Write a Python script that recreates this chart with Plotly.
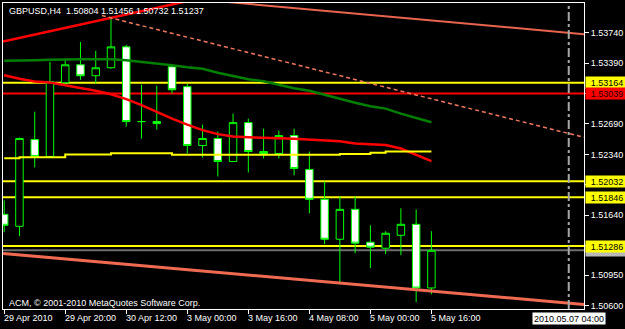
import plotly.graph_objects as go

# ---------------- data ----------------
bar_index = list(range(29))
opens  = [1.51651, 1.51513, 1.52510, 1.52316, 1.53164, 1.53370, 1.53244, 1.53336, 1.53576, 1.52717,
          1.52717, 1.53347, 1.53118, 1.52442, 1.52522, 1.52258, 1.52705, 1.52373, 1.52350, 1.52556,
          1.52167, 1.51823, 1.51364, 1.51708, 1.51330, 1.51261, 1.51410, 1.51536, 1.50804]
highs  = [1.51811, 1.52533, 1.52831, 1.53404, 1.53439, 1.53633, 1.53530, 1.53909, 1.53599, 1.53141,
          1.53129, 1.53350, 1.53152, 1.52682, 1.52602, 1.52808, 1.52751, 1.52636, 1.52614, 1.52636,
          1.52373, 1.52029, 1.51857, 1.51857, 1.51525, 1.51456, 1.51720, 1.51708, 1.51456]
lows   = [1.51445, 1.51399, 1.52190, 1.52304, 1.53129, 1.53198, 1.53152, 1.53324, 1.52659, 1.52522,
          1.52625, 1.53038, 1.52350, 1.52304, 1.52086, 1.52258, 1.52132, 1.52293, 1.52293, 1.52098,
          1.51662, 1.51307, 1.50872, 1.51204, 1.51032, 1.51193, 1.51181, 1.50642, 1.50732]
closes = [1.51525, 1.52522, 1.52316, 1.53175, 1.53370, 1.53244, 1.53336, 1.53576, 1.52717, 1.52717,
          1.52694, 1.53083, 1.52442, 1.52522, 1.52258, 1.52705, 1.52373, 1.52350, 1.52556, 1.52178,
          1.51823, 1.51364, 1.51708, 1.51319, 1.51273, 1.51433, 1.51536, 1.50803, 1.51237]

ma_green  = [1.53416, 1.53416, 1.53421, 1.53427, 1.53433, 1.53435, 1.53435, 1.53435, 1.53421, 1.53404,
             1.53387, 1.53364, 1.53341, 1.53324, 1.53278, 1.53238, 1.53204, 1.53181, 1.53141, 1.53101,
             1.53072, 1.53026, 1.52975, 1.52934, 1.52894, 1.52866, 1.52808, 1.52757, 1.52709]
ma_red    = [1.53250, 1.53209, 1.53179, 1.53167, 1.53135, 1.53106, 1.53072, 1.53032, 1.52975, 1.52906,
             1.52826, 1.52751, 1.52682, 1.52619, 1.52573, 1.52545, 1.52537, 1.52528, 1.52525, 1.52520,
             1.52510, 1.52499, 1.52491, 1.52465, 1.52453, 1.52447, 1.52407, 1.52339, 1.52262]
ma_yellow = [1.52296, 1.52308, 1.52308, 1.52308, 1.52339, 1.52339, 1.52339, 1.52353, 1.52353, 1.52353,
             1.52353, 1.52335, 1.52335, 1.52335, 1.52335, 1.52335, 1.52335, 1.52335, 1.52335, 1.52335,
             1.52335, 1.52335, 1.52344, 1.52344, 1.52358, 1.52373, 1.52373, 1.52373, 1.52373]

yellow_levels = [1.53164, 1.52032, 1.51846, 1.51286]
red_levels = [1.53039]
bid_price = 1.51237

time_tick_idx = [0, 4, 8, 12, 16, 20, 24, 28]
time_tick_text = ["29 Apr 2010", "29 Apr 20:00", "30 Apr 12:00", "3 May 00:00",
                  "3 May 16:00", "4 May 08:00", "5 May 00:00", "5 May 16:00"]
price_ticks = [1.53740, 1.53390, 1.53040, 1.52690, 1.52340, 1.51990, 1.51640, 1.51290, 1.50950, 1.50600]
# labels hidden behind the level boxes in the reference
price_tick_text = ["1.53740", "1.53390", "", "1.52690", "1.52340", "", "1.51640", "", "1.50950", "1.50600"]

vline_idx = 37
vline_text = "2010.05.07 04:00"

# trend line anchors (bar index, price)
red_trend_x, red_trend_y = [0, 7], [1.53639, 1.53909]
dash_trend_x, dash_trend_y = [7, 37], [1.53909, 1.52580]
dash_start = 6.4
chan_top_x, chan_top_y = [16, 37], [1.54070, 1.53738]
chan_bot_x, chan_bot_y = [0, 37], [1.51200, 1.50629]

title_text = "GBPUSD,H4&nbsp;&nbsp;1.50804 1.51456 1.50732 1.51237"
copyright_text = "ACM, © 2001-2010 MetaQuotes Software Corp."

x_range = [-0.078, 38.0]
y_range = [1.505622, 1.540804]

FONT = "Liberation Sans"


def ray(xa, ya, x0, x1):
    slope = (ya[1] - ya[0]) / (xa[1] - xa[0])
    return [x0, x1], [ya[0] + slope * (x0 - xa[0]), ya[0] + slope * (x1 - xa[0])]


fig = go.Figure()

# trend lines / channel
for (xa, ya, xs, col, w, dash) in [
    (chan_top_x, chan_top_y, 10, "#E8644E", 2, None),
    (chan_bot_x, chan_bot_y, x_range[0], "#F06A52", 3, None),
    (red_trend_x, red_trend_y, x_range[0], "#FF0000", 2.5, None),
    (dash_trend_x, dash_trend_y, dash_start, "#F07860", 1.5, "4px,3px"),
]:
    lx, ly = ray(xa, ya, xs, x_range[1])
    fig.add_trace(go.Scatter(x=lx, y=ly, mode="lines",
                             line=dict(color=col, width=w, dash=dash), hoverinfo="skip"))

# moving averages
fig.add_trace(go.Scatter(x=bar_index, y=ma_green, mode="lines",
                         line=dict(color="#008000", width=2.5), hoverinfo="skip"))
fig.add_trace(go.Scatter(x=bar_index, y=ma_red, mode="lines",
                         line=dict(color="#FF0000", width=2.5), hoverinfo="skip"))
fig.add_trace(go.Scatter(x=bar_index, y=ma_yellow, mode="lines", line_shape="hv",
                         line=dict(color="#FFFF00", width=2), hoverinfo="skip"))

# candles
fig.add_trace(go.Candlestick(
    x=bar_index, open=opens, high=highs, low=lows, close=closes,
    increasing=dict(line=dict(color="#00FF00", width=1), fillcolor="black"),
    decreasing=dict(line=dict(color="#00FF00", width=1), fillcolor="white"),
    whiskerwidth=0, hoverinfo="skip"))

shapes = []
for lv in yellow_levels:
    shapes.append(dict(type="line", xref="paper", x0=0, x1=1, yref="y", y0=lv, y1=lv,
                       line=dict(color="#FFFF00", width=2), layer="below"))
for lv in red_levels:
    shapes.append(dict(type="line", xref="paper", x0=0, x1=1, yref="y", y0=lv, y1=lv,
                       line=dict(color="#FF0000", width=2), layer="below"))
shapes.append(dict(type="line", xref="paper", x0=0, x1=1, yref="y", y0=bid_price, y1=bid_price,
                   line=dict(color="#6E6E6E", width=2), layer="below"))
shapes.append(dict(type="line", xref="x", x0=vline_idx, x1=vline_idx, yref="paper", y0=0, y1=1,
                   line=dict(color="#A8A8A8", width=2, dash="dashdot"), layer="above"))

ann = []


def price_label(v, bg, fg="black", show_text=True):
    return dict(xref="paper", x=1, xanchor="left", xshift=1, yref="y", y=v, yanchor="middle",
                text=f"{v:.5f}" if show_text else " ", showarrow=False, bgcolor=bg, borderpad=1,
                width=40, height=9, align="center", font=dict(family=FONT, size=9, color=fg))


# bid label sits almost entirely behind the 1.51286 box in the reference
ann.append(price_label(bid_price, "#B8B8B8", show_text=False))
for lv in yellow_levels:
    ann.append(price_label(lv, "#FFFF00"))
for lv in red_levels:
    ann.append(price_label(lv, "#FF0000", "#200000"))

for xi, t in zip(time_tick_idx, time_tick_text):
    ann.append(dict(xref="x", x=xi, xanchor="left", xshift=-1, yref="paper", y=0, yanchor="top",
                    yshift=-3, text=t, showarrow=False, borderpad=0,
                    font=dict(family=FONT, size=9, color="white")))
ann.append(dict(xref="x", x=vline_idx, xanchor="center", yref="paper", y=0, yanchor="top",
                yshift=-3, text=vline_text, showarrow=False, bgcolor="white", borderpad=1,
                height=9, font=dict(family=FONT, size=9, color="black")))
ann.append(dict(xref="paper", x=0, xanchor="left", xshift=4, yref="paper", y=1, yanchor="top",
                yshift=-1, text=title_text, showarrow=False,
                font=dict(family=FONT, size=9, color="white")))
ann.append(dict(xref="paper", x=0, xanchor="left", xshift=4, yref="paper", y=0, yanchor="bottom",
                yshift=-1, text=copyright_text, showarrow=False,
                font=dict(family=FONT, size=9, color="white")))

fig.update_layout(
    width=625, height=329, margin=dict(l=2, r=40, t=2, b=20),
    paper_bgcolor="black", plot_bgcolor="black", showlegend=False,
    boxgap=0.3, shapes=shapes, annotations=ann, hovermode=False,
)
fig.update_xaxes(range=x_range, showgrid=False, zeroline=False, showline=True, mirror=True,
                 linecolor="white", linewidth=1, ticks="outside", tickvals=time_tick_idx,
                 ticklen=4, tickcolor="white", showticklabels=False,
                 rangeslider=dict(visible=False))
fig.update_yaxes(range=y_range, side="right", showgrid=False, zeroline=False, showline=True,
                 mirror=True, linecolor="white", linewidth=1, ticks="outside", ticklen=4,
                 tickcolor="white", tickvals=price_ticks, ticktext=price_tick_text,
                 tickfont=dict(family=FONT, size=9, color="white"))

fig.write_html("out.html", config={"displayModeBar": False})
